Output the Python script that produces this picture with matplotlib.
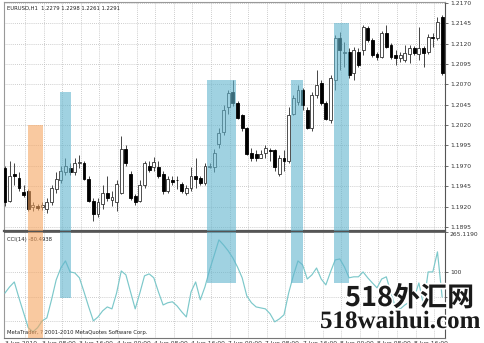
"""EURUSD H1 candles with CCI(14) sub-panel, MetaTrader style screenshot."""
import matplotlib

matplotlib.use("Agg")
import matplotlib.pyplot as plt  # noqa: E402
import matplotlib.patheffects as pe  # noqa: E402
from matplotlib.patches import Rectangle  # noqa: E402
import numpy as np  # noqa: E402

opens = [1.1967, 1.1927, 1.1960, 1.1955, 1.1938, 1.1939, 1.1920, 1.1921, 1.1920, 1.1917,
         1.1925, 1.1942, 1.1952, 1.1962, 1.1967, 1.1963, 1.1973, 1.1974, 1.1954, 1.1927,
         1.1911, 1.1923, 1.1937, 1.1928, 1.1925, 1.1937, 1.1991, 1.1960, 1.1933, 1.1927,
         1.1946, 1.1970, 1.1969, 1.1968, 1.1960, 1.1939, 1.1953, 1.1953, 1.1948, 1.1937,
         1.1943, 1.1958, 1.1955, 1.1949, 1.1969, 1.1968, 1.1997, 1.2011, 1.2042, 1.2060,
         1.2047, 1.2032, 1.2016, 1.1986, 1.1985, 1.1980, 1.1986, 1.1990, 1.1989, 1.1960,
         1.1979, 1.1976, 1.2034, 1.2048, 1.2063, 1.2038, 1.2017, 1.2057, 1.2071, 1.2047,
         1.2026, 1.2075, 1.2127, 1.2108, 1.2110, 1.2084, 1.2110, 1.2112, 1.2139, 1.2124,
         1.2107, 1.2103, 1.2133, 1.2118, 1.2106, 1.2102, 1.2100, 1.2107, 1.2115, 1.2107,
         1.2115, 1.2110, 1.2128, 1.2127, 1.2152]
highs = [1.1970, 1.1976, 1.1973, 1.1962, 1.1946, 1.1942, 1.1926, 1.1923, 1.1925, 1.1930,
         1.1947, 1.1962, 1.1970, 1.1979, 1.1973, 1.1979, 1.1983, 1.1976, 1.1957, 1.1930,
         1.1930, 1.1946, 1.1958, 1.1939, 1.1952, 1.2007, 1.1995, 1.1964, 1.1936, 1.1952,
         1.1976, 1.1976, 1.1981, 1.1976, 1.1964, 1.1958, 1.1958, 1.1958, 1.1950, 1.1947,
         1.1968, 1.1979, 1.1958, 1.1973, 1.1974, 1.1991, 1.2016, 1.2044, 1.2063, 1.2075,
         1.2050, 1.2034, 1.2018, 1.1992, 1.1989, 1.1989, 1.1995, 1.1992, 1.1991, 1.1983,
         1.1989, 1.2042, 1.2057, 1.2069, 1.2066, 1.2042, 1.2060, 1.2087, 1.2075, 1.2050,
         1.2081, 1.2131, 1.2134, 1.2122, 1.2115, 1.2116, 1.2115, 1.2143, 1.2142, 1.2127,
         1.2110, 1.2135, 1.2143, 1.2121, 1.2112, 1.2110, 1.2118, 1.2118, 1.2117, 1.2140,
         1.2117, 1.2132, 1.2133, 1.2153, 1.2155]
lows = [1.1921, 1.1925, 1.1946, 1.1939, 1.1932, 1.1915, 1.1915, 1.1916, 1.1916, 1.1912,
        1.1922, 1.1937, 1.1949, 1.1959, 1.1959, 1.1959, 1.1967, 1.1952, 1.1925, 1.1902,
        1.1907, 1.1917, 1.1927, 1.1921, 1.1915, 1.1936, 1.1970, 1.1928, 1.1922, 1.1925,
        1.1943, 1.1962, 1.1964, 1.1955, 1.1936, 1.1937, 1.1947, 1.1942, 1.1937, 1.1934,
        1.1939, 1.1943, 1.1946, 1.1947, 1.1967, 1.1962, 1.1992, 1.2008, 1.2034, 1.2043,
        1.2027, 1.2013, 1.1983, 1.1976, 1.1976, 1.1979, 1.1979, 1.1976, 1.1964, 1.1958,
        1.1964, 1.1974, 1.2032, 1.2045, 1.2038, 1.2015, 1.2013, 1.2053, 1.2044, 1.2026,
        1.2023, 1.2063, 1.2087, 1.2091, 1.2078, 1.2075, 1.2091, 1.2106, 1.2122, 1.2103,
        1.2100, 1.2102, 1.2115, 1.2101, 1.2094, 1.2097, 1.2097, 1.2096, 1.2106, 1.2100,
        1.2091, 1.2107, 1.2116, 1.2124, 1.2081]
closes = [1.1925, 1.1958, 1.1957, 1.1943, 1.1934, 1.1917, 1.1922, 1.1918, 1.1922, 1.1926,
          1.1943, 1.1954, 1.1964, 1.1970, 1.1963, 1.1973, 1.1975, 1.1954, 1.1927, 1.1911,
          1.1925, 1.1937, 1.1930, 1.1932, 1.1948, 1.1991, 1.1973, 1.1931, 1.1925, 1.1946,
          1.1973, 1.1965, 1.1975, 1.1958, 1.1939, 1.1954, 1.1950, 1.1952, 1.1939, 1.1943,
          1.1958, 1.1954, 1.1949, 1.1970, 1.1970, 1.1986, 1.2010, 1.2038, 1.2059, 1.2047,
          1.2029, 1.2016, 1.1985, 1.1980, 1.1980, 1.1985, 1.1992, 1.1988, 1.1968, 1.1980,
          1.1976, 1.2032, 1.2053, 1.2063, 1.2044, 1.2017, 1.2057, 1.2069, 1.2047, 1.2028,
          1.2078, 1.2127, 1.2112, 1.2110, 1.2081, 1.2112, 1.2094, 1.2140, 1.2124, 1.2106,
          1.2103, 1.2133, 1.2116, 1.2103, 1.2102, 1.2106, 1.2108, 1.2115, 1.2108, 1.2115,
          1.2108, 1.2128, 1.2127, 1.2147, 1.2084]
cci = [16, 41, 61, -4, -65, -126, -143, -126, -98, -86,
       -12, 69, 118, 147, 102, 98, 78, 20, -41, -98,
       -82, -57, -41, -49, 16, 106, 90, 20, -49, 16,
       86, 94, 78, 20, -33, -24, -20, -37, -61, -82,
       20, 61, -12, 41, 110, 171, 233, 212, 188, 159,
       122, 78, 4, -24, -41, -45, -49, -69, -102, -90,
       -73, 16, 86, 147, 131, 73, 90, 118, 73, 49,
       102, 151, 155, 122, 78, 82, 82, 102, 78, 57,
       37, 73, 82, 16, -45, -49, -33, -20, -4, 57,
       -33, 102, 102, 184, 0]

price_ticks = [1.2170, 1.2145, 1.2120, 1.2095, 1.2070, 1.2045,
               1.2020, 1.1995, 1.1970, 1.1945, 1.1920, 1.1895]
cci_ticks = [265.119, 100, 0, -100]
cci_tick_labels = ["265.1190", "100", "0.00", "-100"]
time_tick_bars = [0, 8, 16, 24, 32, 40, 48, 56, 64, 72, 80, 88]
time_tick_labels = ["3 Jun 2010", "3 Jun 08:00", "3 Jun 16:00", "4 Jun 00:00",
                    "4 Jun 08:00", "4 Jun 16:00", "7 Jun 00:00", "7 Jun 08:00",
                    "7 Jun 16:00", "8 Jun 00:00", "8 Jun 08:00", "8 Jun 16:00"]

# highlighted signal zones (bar range, top price, bottom CCI level)
zone_first = [4.9, 11.8, 43.4, 61.5, 70.8]
zone_last = [8.2, 14.2, 49.7, 64.1, 74.0]
zone_top = [1.2020, 1.2060, 1.2075, 1.2075, 1.2145]
zone_bottom = [-170, -4, 57, 57, 57]
zone_color = ["#f5a561", "#61b4cd", "#61b4cd", "#61b4cd", "#61b4cd"]

W, H = 484, 343
fig = plt.figure(figsize=(W / 100, H / 100), dpi=100)
fig.patch.set_facecolor("white")
ax = fig.add_axes([4 / W, 1 - 231 / H, 441 / W, 229 / H])
ax2 = fig.add_axes([4 / W, 1 - 338 / H, 441 / W, 106 / H])

x = np.arange(len(opens))
o, h, l, c = (np.asarray(v) for v in (opens, highs, lows, closes))
XLIM = (-0.215, 94.62)
PLIM = (1.1890, 1.2171)
CLIM = (-168, 265.119)

grid_kw = dict(color="#bdbdbd", lw=0.6, ls=(0, (1, 1.5)), zorder=0)
vgrid = np.arange(4.3, 95, 4)

# --- price panel
for p in price_ticks:
    ax.axhline(p, **grid_kw)
for g in vgrid:
    ax.axvline(g, **grid_kw)
ax.vlines(x, l, h, color="#444444", lw=0.7, zorder=2)
up = c >= o
body = np.maximum(np.abs(c - o), 0.00003)
ax.bar(x[up], body[up], bottom=o[up], width=0.62, color="white",
       edgecolor="#333333", lw=0.6, zorder=3)
ax.bar(x[~up], body[~up], bottom=c[~up], width=0.62, color="black",
       edgecolor="black", lw=0.6, zorder=3)

ax.set_xlim(*XLIM)
ax.set_ylim(*PLIM)
ax.set_xticks([])
ax.yaxis.tick_right()
ax.set_yticks(price_ticks)
ax.set_yticklabels([f"{p:.4f}" for p in price_ticks])
ax.tick_params(axis="y", labelsize=4.3, length=2, width=0.5, pad=1.5,
               colors="#333333")
for side, col, lw in [("left", "#999999", 0.8), ("top", "#999999", 0.8),
                      ("right", "#555555", 0.8), ("bottom", "#555555", 1.6)]:
    ax.spines[side].set_color(col)
    ax.spines[side].set_linewidth(lw)
ax.text(0.006, 0.985, "EURUSD,H1  1.2279 1.2298 1.2261 1.2291",
        transform=ax.transAxes, fontsize=3.8, va="top", ha="left", color="#222222")

# --- CCI panel
for v in [100, 0, -100]:
    ax2.axhline(v, **grid_kw)
for g in vgrid:
    ax2.axvline(g, **grid_kw)
ax2.plot(x, cci, color="#7cc8ca", lw=0.85, zorder=3)
ax2.set_xlim(*XLIM)
ax2.set_ylim(*CLIM)
ax2.yaxis.tick_right()
ax2.set_yticks(cci_ticks)
ax2.set_yticklabels(cci_tick_labels)
ax2.tick_params(axis="y", labelsize=4.3, length=2, width=0.5, pad=1.5,
                colors="#333333")
ax2.get_yticklabels()[0].set_va("top")
ax2.set_xticks(time_tick_bars)
ax2.set_xticklabels(time_tick_labels, ha="left")
ax2.tick_params(axis="x", labelsize=4.3, length=0, pad=2.2, colors="#333333")
for side, col, lw in [("left", "#999999", 0.8), ("top", "#555555", 0.6),
                      ("right", "#555555", 0.8), ("bottom", "#777777", 0.8)]:
    ax2.spines[side].set_color(col)
    ax2.spines[side].set_linewidth(lw)
ax2.text(0.007, 0.95, "CCI(14) -80.4938", transform=ax2.transAxes,
         fontsize=3.8, va="top", ha="left", color="#222222")
ax2.text(0.007, 0.03, "MetaTrader, ? 2001-2010 MetaQuotes Software Corp.",
         transform=ax2.transAxes, fontsize=3.8, va="bottom", ha="left",
         color="#222222")

# --- signal zones spanning both panels
for s, e, top, bot, col in zip(zone_first, zone_last, zone_top, zone_bottom, zone_color):
    ax.add_patch(Rectangle((s, PLIM[0]), e - s, top - PLIM[0], facecolor=col,
                           edgecolor="none", alpha=0.6, zorder=4, clip_on=False))
    ax2.add_patch(Rectangle((s, bot), e - s, CLIM[1] - bot, facecolor=col,
                            edgecolor="none", alpha=0.6, zorder=4))

# --- site watermark
halo = [pe.withStroke(linewidth=2.5, foreground="white")]
fig.text(345 / W, 1 - 306 / H, "518外汇网", fontsize=19.5, fontweight="bold",
         family=["Noto Sans CJK SC", "DejaVu Sans"], color="#1a1a1a",
         ha="left", va="baseline", path_effects=halo)
fig.text(320 / W, 1 - 328 / H, "518waihui.com", fontsize=18, fontweight="bold",
         family=["Liberation Serif", "DejaVu Serif"], color="#1a1a1a",
         ha="left", va="baseline", path_effects=halo)

fig.savefig("out.png", dpi=100, facecolor="white")
